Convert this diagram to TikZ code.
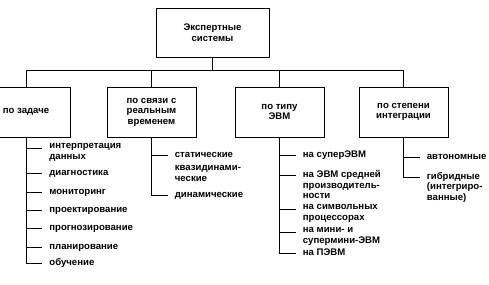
\documentclass[tikz,border=0pt]{standalone}
\usepackage{fontspec}
\setmainfont{Liberation Sans}
\begin{document}
\begin{tikzpicture}[x=1pt,y=-1pt,line width=0.8pt,
  font=\fontsize{9.6}{10.5}\selectfont\bfseries,
  box/.style={draw,rectangle,minimum width=89pt,minimum height=50pt,align=center,inner sep=2pt},
  leaf/.style={anchor=north west,align=left,inner sep=0pt,execute at begin node=\strut}]
  \useasboundingbox (0,0) rectangle (489,284);
  \clip (0,0) rectangle (489,284);
  % top and the four groups
  \node[box,minimum width=113pt,minimum height=49pt] (top) at (212.5,32.5) {Экспертные\\системы};
  \node[box] (b1) at (26,112) {по задаче};
  \node[box] (b2) at (151.5,112) {по связи с\\реальным\\временем};
  \node[box] (b3) at (279.5,112) {по типу\\ЭВМ};
  \node[box] (b4) at (403.5,112) {по степени\\интеграции};
  \draw (top.south) -- ++(0,14);
  \draw (b1.north) -- ++(0,-16) -| (b4.north);
  \draw (b2.north) -- ++(0,-16);
  \draw (b3.north) -- ++(0,-16);
  % by task
  \node[leaf] (l11) at (49,143) {интерпретация\\данных};
  \node[leaf] (l12) at (49,168) {диагностика};
  \node[leaf] (l13) at (49,187) {мониторинг};
  \node[leaf] (l14) at (49,205) {проектирование};
  \node[leaf] (l15) at (49,223) {прогнозирование};
  \node[leaf] (l16) at (49,242) {планирование};
  \node[leaf] (l17) at (49,258) {обучение};
  % by real time
  \node[leaf] (l21) at (174.5,150) {статические};
  \node[leaf] (l22) at (174.5,165) {квазидинами-\\ческие};
  \node[leaf] (l23) at (174.5,190) {динамические};
  % by computer type
  \node[leaf] (l31) at (302.5,150) {на суперЭВМ};
  \node[leaf] (l32) at (302.5,170) {на ЭВМ средней\\производитель-\\ности};
  \node[leaf] (l33) at (302.5,204) {на символьных\\процессорах};
  \node[leaf] (l34) at (302.5,227) {на мини- и\\супермини-ЭВМ};
  \node[leaf] (l35) at (302.5,248) {на ПЭВМ};
  % by integration
  \node[leaf] (l41) at (426.5,152) {автономные};
  \node[leaf] (l42) at (426.5,172) {гибридные\\(интегриро-\\ванные)};
  % spines
  \draw (b1.south) |- ([xshift=-7pt,yshift=-5pt]l17.north west);
  \draw (b2.south) |- ([xshift=-7pt,yshift=-5pt]l23.north west);
  \draw (b3.south) |- ([xshift=-7pt,yshift=-5pt]l35.north west);
  \draw (b4.south) |- ([xshift=-7pt,yshift=-5pt]l42.north west);
  \foreach \n in {l11,l12,l13,l14,l15,l16,l21,l31,l32,l33,l34,l41}
    \draw ([xshift=-7pt,yshift=-5pt]\n.north west) -- ++(-16,0);
\end{tikzpicture}
\end{document}
